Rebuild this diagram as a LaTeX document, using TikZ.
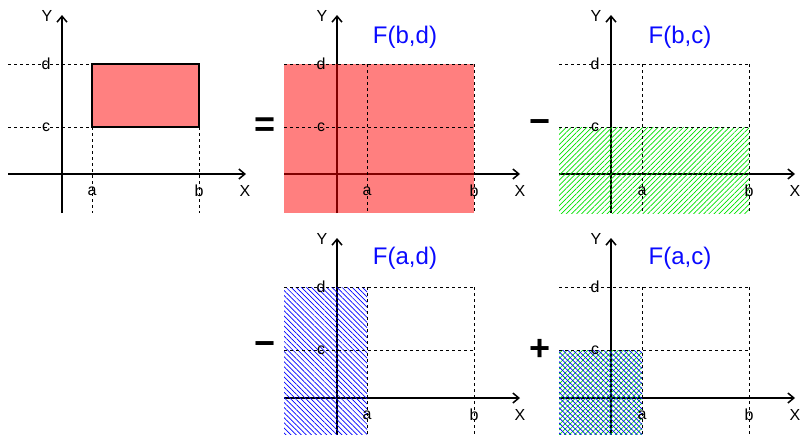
\documentclass[tikz,border=0pt]{standalone}
\usepackage{fontspec}
\setmainfont{Liberation Sans}
\usetikzlibrary{patterns.meta,arrows.meta}
\definecolor{hgreen}{RGB}{0,225,0}
\definecolor{hblue}{RGB}{0,0,255}
\definecolor{pinkfill}{RGB}{255,128,128}
\definecolor{flabel}{RGB}{10,10,255}
\tikzset{
  axis/.style={line width=1.5pt, -{Straight Barb[length=6pt,width=10pt,line width=1.5pt]}},
  guide/.style={line width=0.8pt, dash pattern=on 3pt off 3pt},
  lbl/.style={font=\fontsize{16}{16}\selectfont, inner sep=0pt},
  flbl/.style={font=\fontsize{24}{24}\selectfont, text=flabel, inner sep=0pt},
  sign/.style={font=\fontsize{36}{36}\selectfont\bfseries, inner sep=0pt},
  greenhatch/.style={pattern={Lines[angle=45,distance=3.6pt,line width=0.7pt]}, pattern color=hgreen},
  bluehatch/.style={pattern={Lines[angle=-45,distance=3.6pt,line width=0.7pt]}, pattern color=hblue}
}
\begin{document}
\begin{tikzpicture}[x=1pt,y=-1pt]
\useasboundingbox (0,0) rectangle (801,434);

% ---------- Panel 1: the rectangle ----------
\begin{scope}[shift={(62,174)}]
  \draw[axis] (-54,0) -- (184,0);
  \draw[axis] (0,39) -- (0,-159);
  \draw[guide] (-54,-110) -- (30,-110);
  \draw[guide] (-54,-47) -- (30,-47);
  \draw[guide] (30,-47) -- (30,39);
  \draw[guide] (137,-47) -- (137,39);
  \draw[fill=pinkfill, line width=1.5pt] (30,-47) rectangle (137,-110);
  \node[lbl] (p1x) at (183,17) {X};
  \node[lbl] (p1y) at (-15,-158) {Y};
  \node[lbl] (p1a) at (30,17) {a};
  \node[lbl] (p1b) at (137,17) {b};
  \node[lbl] (p1c) at (-16,-47) {c};
  \node[lbl] (p1d) at (-16,-110) {d};
\end{scope}

% ---------- Panel 2: F(b,d) ----------
\begin{scope}[shift={(337,174)}]
  \draw[axis] (-53,0) -- (183,0);
  \draw[axis] (0,39) -- (0,-159);
  \fill[red, fill opacity=0.5] (-53,39) rectangle (137,-110);
  \draw[guide] (-53,-110) -- (137,-110);
  \draw[guide] (-53,-47) -- (137,-47);
  \draw[guide] (30,-110) -- (30,39);
  \draw[guide] (137,-110) -- (137,39);
  \node[lbl] (p2x) at (183,17) {X};
  \node[lbl] (p2y) at (-15,-158) {Y};
  \node[lbl] (p2a) at (30,17) {a};
  \node[lbl] (p2b) at (137,17) {b};
  \node[lbl] (p2c) at (-16,-47) {c};
  \node[lbl] (p2d) at (-16,-110) {d};
  \node[flbl] (p2f) at (68,-137) {F(b,d)};
\end{scope}

% ---------- Panel 3: F(b,c) ----------
\begin{scope}[shift={(611,174)}]
  \draw[axis] (-52,0) -- (184,0);
  \draw[axis] (0,39) -- (0,-159);
  \fill[greenhatch] (-52,39) rectangle (138,-47);
  \draw[guide] (-52,-110) -- (138,-110);
  \draw[guide] (-52,-47) -- (138,-47);
  \draw[guide] (31,-110) -- (31,39);
  \draw[guide] (138,-110) -- (138,39);
  \node[lbl] (p3x) at (184,17) {X};
  \node[lbl] (p3y) at (-15,-158) {Y};
  \node[lbl] (p3a) at (31,17) {a};
  \node[lbl] (p3b) at (138,17) {b};
  \node[lbl] (p3c) at (-16,-47) {c};
  \node[lbl] (p3d) at (-16,-110) {d};
  \node[flbl] (p3f) at (69,-137) {F(b,c)};
\end{scope}

% ---------- Panel 4: F(a,d) ----------
\begin{scope}[shift={(337,398)}]
  \draw[axis] (-53,0) -- (183,0);
  \draw[axis] (0,40) -- (0,-160);
  \fill[bluehatch] (-53,40) rectangle (30,-111);
  \draw[guide] (-53,-111) -- (137,-111);
  \draw[guide] (-53,-48) -- (137,-48);
  \draw[guide] (30,-111) -- (30,40);
  \draw[guide] (137,-111) -- (137,40);
  \node[lbl] (p4x) at (183,17) {X};
  \node[lbl] (p4y) at (-15,-159) {Y};
  \node[lbl] (p4a) at (30,17) {a};
  \node[lbl] (p4b) at (137,17) {b};
  \node[lbl] (p4c) at (-16,-48) {c};
  \node[lbl] (p4d) at (-16,-111) {d};
  \node[flbl] (p4f) at (68,-140) {F(a,d)};
\end{scope}

% ---------- Panel 5: F(a,c) ----------
\begin{scope}[shift={(611,398)}]
  \draw[axis] (-52,0) -- (184,0);
  \draw[axis] (0,40) -- (0,-160);
  \fill[greenhatch] (-52,40) rectangle (31,-48);
  \fill[bluehatch] (-52,40) rectangle (31,-48);
  \draw[guide] (-52,-111) -- (138,-111);
  \draw[guide] (-52,-48) -- (138,-48);
  \draw[guide] (31,-111) -- (31,40);
  \draw[guide] (138,-111) -- (138,40);
  \node[lbl] (p5x) at (184,17) {X};
  \node[lbl] (p5y) at (-15,-159) {Y};
  \node[lbl] (p5a) at (31,17) {a};
  \node[lbl] (p5b) at (138,17) {b};
  \node[lbl] (p5c) at (-16,-48) {c};
  \node[lbl] (p5d) at (-16,-111) {d};
  \node[flbl] (p5f) at (69,-140) {F(a,c)};
\end{scope}

% ---------- operators ----------
\node[sign] (eq) at (265,127) {=};
\node[sign] (m1) at (540,127) {−};
\node[sign] (m2) at (265,349) {−};
\node[sign] (pl) at (540,350) {+};
\end{tikzpicture}
\end{document}
